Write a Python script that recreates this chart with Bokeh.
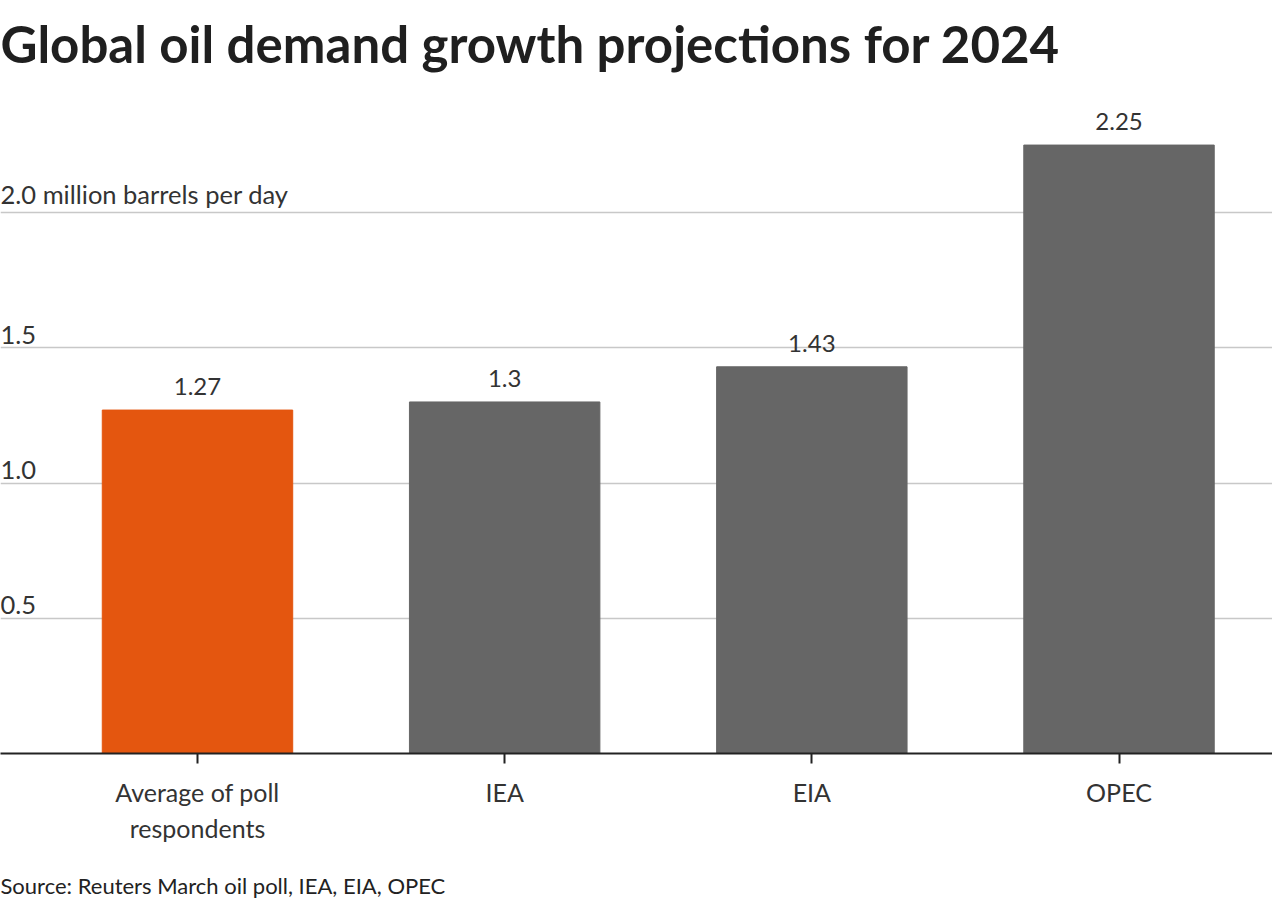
from bokeh.plotting import figure
from bokeh.models import ColumnDataSource, FixedTicker, Title, Range1d
from bokeh.core.properties import value
from bokeh.embed import file_html
from bokeh.resources import INLINE

# ---- data ----
categories = ["Average of poll\nrespondents", "IEA", "EIA", "OPEC"]
values = [1.27, 1.30, 1.43, 2.25]
value_labels = ["1.27", "1.3", "1.43", "2.25"]
y_ticks = [0.5, 1.0, 1.5, 2.0]
y_tick_labels = ["0.5", "1.0", "1.5", "2.0 million barrels per day"]
source_text = "Source: Reuters March oil poll, IEA, EIA, OPEC"

# ---- style ----
bar_colors = ["#E4560F", "#666666", "#666666", "#666666"]
FONT = "Lato"
x_pos = list(range(len(categories)))

X_START, X_END = -0.6413, 3.4997
Y_START, Y_END = 0.0, 2.474

p = figure(width=1272, height=922, output_backend="svg", toolbar_location=None,
           x_range=Range1d(X_START, X_END), y_range=Range1d(Y_START, Y_END),
           min_border_left=0, min_border_right=0, min_border_top=0, min_border_bottom=0)

p.title.text = "Global oil demand growth projections for 2024"
p.title.text_font = FONT
p.title.text_font_size = "51px"
p.title.text_font_style = "bold"
p.title.text_color = "#1f1f1f"
p.title.align = "left"
p.title.offset = 0
p.title.standoff = 21

src = ColumnDataSource(dict(x=x_pos, top=values, color=bar_colors, label=value_labels))
p.vbar(x="x", top="top", width=0.62, bottom=0, color="color", source=src)

p.text(x="x", y="top", text="label", source=src, text_align="center",
       text_baseline="bottom", y_offset=-15, text_font=value(FONT),
       text_font_size="24px", text_color="#333333")

ysrc = ColumnDataSource(dict(x=[X_START] * len(y_ticks), y=y_ticks, t=y_tick_labels))
p.text(x="x", y="y", text="t", source=ysrc, text_align="left", text_baseline="bottom",
       y_offset=-4, text_font=value(FONT), text_font_size="25.5px", text_color="#333333")

p.yaxis.visible = False
p.ygrid.ticker = FixedTicker(ticks=y_ticks)
p.ygrid.grid_line_color = "#c8c8c8"
p.ygrid.grid_line_width = 1.5
p.xgrid.grid_line_color = None
p.outline_line_color = None

ax = p.xaxis[0]
ax.ticker = FixedTicker(ticks=x_pos)
ax.major_label_overrides = {i: c for i, c in zip(x_pos, categories)}
ax.axis_line_color = "#222222"
ax.axis_line_width = 2
ax.major_tick_line_color = "#222222"
ax.major_tick_line_width = 2
ax.major_tick_out = 10
ax.major_tick_in = 0
ax.minor_tick_line_color = None
ax.major_label_standoff = 13
ax.major_label_text_font = FONT
ax.major_label_text_font_size = "25px"
ax.major_label_text_color = "#333333"

src_title = Title(text=source_text, align="left", text_baseline="top",
                  text_font=FONT, text_font_size="22px", text_font_style="normal",
                  text_color="#222222", offset=0, standoff=48)
p.add_layout(src_title, "below")

open("out.html", "w").write(file_html(p, INLINE))
